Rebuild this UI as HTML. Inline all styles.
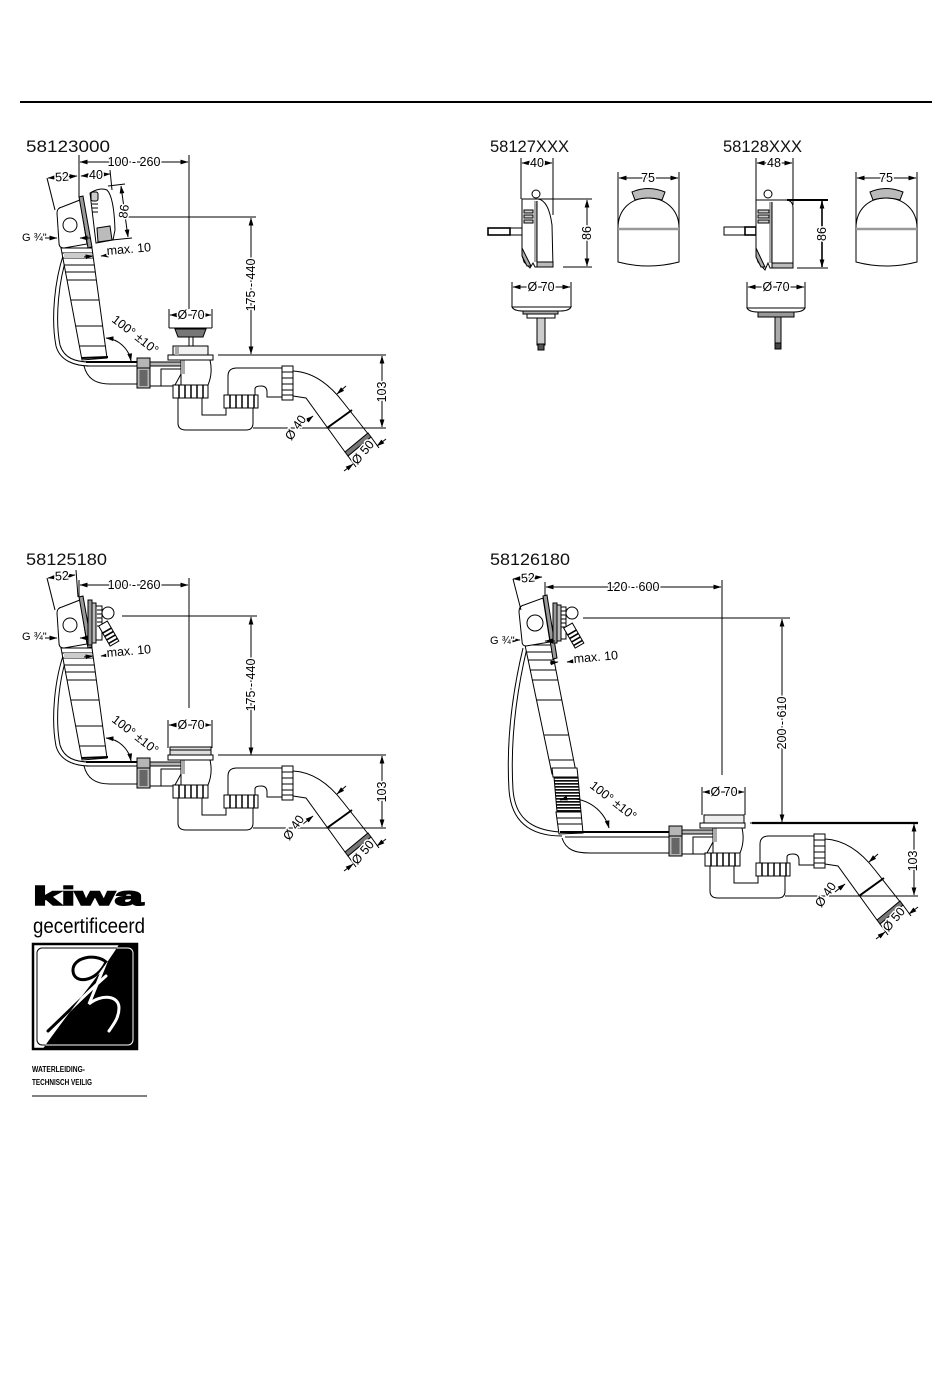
<!DOCTYPE html>
<html><head><meta charset="utf-8"><style>
html,body{margin:0;padding:0;background:#fff}
svg{display:block}
.t{font-family:"Liberation Sans",sans-serif;font-size:12.5px;fill:#000;stroke:#fff;stroke-width:3px;paint-order:stroke;stroke-linejoin:round}
.ti{font-family:"Liberation Sans",sans-serif;font-size:17px;fill:#111}
</style></head><body>
<svg width="950" height="1383" viewBox="0 0 950 1383" xmlns="http://www.w3.org/2000/svg">
<defs>
<marker id="ar" viewBox="0 0 8 6" refX="7.5" refY="3" markerWidth="8" markerHeight="6" markerUnits="userSpaceOnUse" orient="auto-start-reverse"><path d="M0,0.6 L8,3 L0,5.4Z" fill="#000"/></marker>
<pattern id="hz" width="4" height="3" patternUnits="userSpaceOnUse"><rect width="4" height="3" fill="#fff"/><rect y="0" width="4" height="1.7" fill="#111"/></pattern>
<clipPath id="blk"><path d="M120,943 L138,943 L138,1050 L42,1050 C70,1010 100,975 120,943Z"/></clipPath>
<clipPath id="wht"><path d="M32,943 L120,943 C100,975 70,1010 42,1050 L32,1050Z"/></clipPath>

<g id="siphon" stroke="#000" stroke-width="1" fill="none">
<line x1="218" y1="355" x2="386" y2="355"/>
<line x1="253" y1="428" x2="386" y2="428"/>
<line x1="382" y1="356" x2="382" y2="427" marker-start="url(#ar)" marker-end="url(#ar)"/>
<rect x="137" y="358" width="13" height="30" fill="#b5b5b5"/>
<line x1="137" y1="368" x2="150" y2="368"/>
<rect x="139.5" y="370" width="8" height="16" fill="#666" stroke="none"/>
<path d="M150,362 H181 M150,386 H176"/>
<rect x="150" y="362" width="31" height="4" fill="#b5b5b5"/>
<rect x="161" y="369" width="20" height="17" fill="#fff"/>
<path d="M181,360 V374 L175,385 M210,360 Q213,373 208,385"/>
<rect x="181" y="360" width="4" height="14" fill="#aaa" stroke="none"/>
<rect x="168" y="355" width="45" height="5" fill="#fff"/>
<rect x="173" y="385" width="35" height="13" fill="#fff"/>
<path d="M179,385V398M185,385V398M191,385V398M197,385V398M203,385V398" stroke-width="1.5"/>
<path d="M178,398 V423 Q178,430 186,430 H246 Q253,430 253,423 V408"/>
<path d="M202,398 V415 H226 V408"/>
<rect x="224" y="395" width="34" height="13" fill="#fff"/>
<path d="M230,395V408M236,395V408M242,395V408M248,395V408M254,395V408" stroke-width="1.5"/>
<path d="M228,395 V376 Q228,368 237,368 H282"/>
<path d="M255,395 V389 Q255,386 261,386 Q267,386 267,392 V397 H282"/>
<rect x="282" y="366" width="11" height="34" fill="#fff"/>
<path d="M282,372H293M282,378H293M282,384H293M282,390H293M282,395H293"/>
<path d="M293,371 C313,372 330,385 343,402 L369,435"/>
<path d="M293,396 L306,398 L345,452"/>
<line x1="327" y1="428" x2="352" y2="410" stroke-width="2"/>
<path d="M345,452 L368,433 L371,437 L348,456Z" fill="#777"/>
<line x1="346" y1="386" x2="337" y2="394" marker-end="url(#ar)"/>
<line x1="303" y1="424" x2="313" y2="416" marker-end="url(#ar)"/>
<path d="M348,456 L356,467 M371,437 L379,448"/>
<line x1="344" y1="471" x2="353" y2="464" marker-end="url(#ar)"/>
<line x1="386" y1="439" x2="377" y2="446" marker-end="url(#ar)"/>
</g>

<g id="ov" stroke="#000" stroke-width="1" fill="none">
<path d="M69,250 C58,280 55,320 60,345 C64,358 75,362 90,362"/>
<path d="M65,250 C54,280 51,320 56,346 C60,361 75,366 90,366"/>
<path d="M61,248 L92,248 L107,358 L82,360 Z" fill="#fff"/>
<path d="M62,253H92.7M62.9,258H93.4M64.2,265H94.3M65.6,272H95.3M67.1,280H96.4M70.9,300H99.1M75.9,326H102.6M79.7,346H105.3"/>
<rect x="64" y="253" width="28" height="5" fill="#ccc" stroke="none"/>
<line x1="82" y1="358" x2="108" y2="357" stroke-width="2"/>
<line x1="86" y1="362" x2="137" y2="362" stroke-width="2"/>
<line x1="86" y1="366" x2="137" y2="366"/>
<path d="M84,366 C87,378 95,384 110,384 L137,384"/>
<path d="M57,213 Q57,208 62,207 L80,200 L87,244 L64,248 Q59,248 59,243 Z" fill="#fff"/>
<circle cx="70" cy="225" r="7" fill="#fff"/>
<path d="M79,197 L83,196 L92,247 L88,248 Z" fill="#999"/>
<path d="M106,338 A28,28 0 0 1 131,361" marker-start="url(#ar)" marker-end="url(#ar)"/>
<line x1="47" y1="178" x2="55" y2="210"/>
<line x1="45" y1="238" x2="57" y2="238" marker-end="url(#ar)"/>
<line x1="90" y1="238" x2="80" y2="238" marker-end="url(#ar)"/>
<line x1="84" y1="257" x2="93" y2="256" marker-end="url(#ar)"/>
<line x1="110" y1="255" x2="101" y2="256" marker-end="url(#ar)"/>
</g>

<g id="front" stroke="#000" stroke-width="1" fill="none">
<line x1="618" y1="172" x2="618" y2="228"/>
<line x1="679" y1="172" x2="679" y2="228"/>
<line x1="619" y1="178" x2="678" y2="178" marker-start="url(#ar)" marker-end="url(#ar)"/>
<path d="M618,262 L618,228 C618,210 630,198 648,198 C666,198 679,210 679,228 L679,262 Q648,270 618,262 Z" fill="#fff"/>
<line x1="618" y1="229" x2="679" y2="229" stroke="#999" stroke-width="2.5"/>
<path d="M632,192 Q648,185 665,192 L662,200 Q648,196 635,200 Z" fill="#bbb"/>
</g>
</defs>

<line x1="20" y1="102" x2="932" y2="102" stroke="#000" stroke-width="2"/>

<!-- Drawing 1 -->
<text class="ti" x="26" y="152" textLength="84" lengthAdjust="spacingAndGlyphs">58123000</text>
<use href="#ov"/>
<use href="#siphon"/>
<g stroke="#000" stroke-width="1" fill="none">
<line x1="79" y1="155" x2="79" y2="197"/>
<line x1="80" y1="162" x2="188" y2="162" marker-start="url(#ar)" marker-end="url(#ar)"/>
<line x1="189" y1="155" x2="189" y2="309"/>
<line x1="48" y1="178" x2="77" y2="176" marker-start="url(#ar)" marker-end="url(#ar)"/>
<line x1="81" y1="176" x2="110" y2="174" marker-start="url(#ar)" marker-end="url(#ar)"/>
<line x1="110" y1="170" x2="112" y2="190"/>
<path d="M90,193 Q100,187 107,190 Q114,197 115,230 L113,240 L96,243 Z" fill="#fff"/>
<rect x="91" y="192" width="7" height="9" rx="2" fill="#ccc"/>
<path d="M92,204h6M92,208h6M92,212h6"/>
<path d="M97,228 L110,226 L112,240 L98,242Z" fill="#bbb"/>
<line x1="108" y1="186" x2="125" y2="184"/>
<line x1="112" y1="240" x2="132" y2="238"/>
<line x1="121" y1="186" x2="128" y2="237" marker-start="url(#ar)" marker-end="url(#ar)"/>
<line x1="128" y1="217" x2="256" y2="217"/>
<line x1="251" y1="218" x2="251" y2="354" marker-start="url(#ar)" marker-end="url(#ar)"/>
<line x1="169" y1="309" x2="169" y2="328"/>
<line x1="212" y1="309" x2="212" y2="328"/>
<line x1="170" y1="315" x2="211" y2="315" marker-start="url(#ar)" marker-end="url(#ar)"/>
<line x1="169" y1="328" x2="212" y2="328"/>
<path d="M175,329 H206 L203,337 H178Z" fill="#777"/>
<path d="M189,337 V346 M193,337 V346"/>
<rect x="173" y="346" width="35" height="9" fill="#f2f2f2"/>
<rect x="175" y="347" width="4" height="8" fill="#aaa" stroke="none"/>
</g>
<text class="t" x="134" y="166" text-anchor="middle">100 - 260</text>
<text class="t" x="62" y="181" text-anchor="middle" transform="rotate(-4 62 177)">52</text>
<text class="t" x="96" y="179" text-anchor="middle">40</text>
<text class="t" text-anchor="middle" transform="translate(128,212) rotate(-82)">86</text>
<text class="t" x="22" y="241" style="font-size:11px">G ¾"</text>
<text class="t" transform="translate(107,255) rotate(-5)">max. 10</text>
<text class="t" transform="translate(111,321) rotate(38)">100° ±10°</text>
<text class="t" text-anchor="middle" transform="translate(255,285) rotate(-90)">175 - 440</text>
<text class="t" x="191" y="319" text-anchor="middle">Ø 70</text>
<text class="t" text-anchor="middle" transform="translate(386,392) rotate(-90)">103</text>
<text class="t" text-anchor="middle" transform="translate(299,430) rotate(-55)">Ø 40</text>
<text class="t" text-anchor="middle" transform="translate(366,455) rotate(-50)">Ø 50</text>

<!-- Drawing 2 -->
<text class="ti" x="490" y="152" textLength="79" lengthAdjust="spacingAndGlyphs">58127XXX</text>
<text class="ti" x="723" y="152" textLength="79" lengthAdjust="spacingAndGlyphs">58128XXX</text>
<g stroke="#000" stroke-width="1" fill="none">
<line x1="521" y1="158" x2="521" y2="199"/>
<line x1="553" y1="158" x2="553" y2="215"/>
<line x1="522" y1="163" x2="552" y2="163" marker-start="url(#ar)" marker-end="url(#ar)"/>
<rect x="488" y="228" width="34" height="7" fill="#fff"/>
<rect x="488" y="228" width="22" height="7" stroke-width="1.6"/>
<path d="M522,199 L538,199 C546,200 550,210 552,225 L553,267 L535,267 L533,263 L530,268 L524,262 L522,255 Z" fill="#fff"/>
<rect x="534" y="201" width="3" height="61" fill="#aaa" stroke="none"/>
<line x1="537" y1="201" x2="537" y2="262"/>
<circle cx="536" cy="194" r="4" fill="#fff"/>
<path d="M524,210h9v3h-9zM524,215h9v3h-9zM524,220h9v3h-9z" fill="#ccc"/>
<rect x="537" y="262" width="16" height="5" fill="#bbb"/>
<path d="M522,248 L531,266 L527,266 L522,256Z" fill="#aaa"/>
<line x1="538" y1="199" x2="592" y2="199"/>
<line x1="563" y1="267" x2="592" y2="267"/>
<line x1="587" y1="200" x2="587" y2="266" marker-start="url(#ar)" marker-end="url(#ar)"/>
<line x1="512" y1="282" x2="512" y2="307"/>
<line x1="571" y1="282" x2="571" y2="307"/>
<line x1="513" y1="287" x2="570" y2="287" marker-start="url(#ar)" marker-end="url(#ar)"/>
<path d="M512,307 L571,307 Q569,311 560,311 L523,311 Q514,311 512,307Z" fill="#fff"/>
<rect x="523" y="311" width="35" height="3" fill="#aaa"/>
<rect x="527" y="314" width="28" height="4" fill="#fff"/>
<rect x="537" y="318" width="8" height="27" fill="#ccc"/>
<rect x="538" y="344" width="6" height="6" fill="#555"/>
<line x1="756" y1="158" x2="756" y2="200"/>
<line x1="793" y1="158" x2="793" y2="205"/>
<line x1="757" y1="163" x2="792" y2="163" marker-start="url(#ar)" marker-end="url(#ar)"/>
<rect x="724" y="227" width="32" height="8" fill="#fff"/>
<rect x="745" y="227" width="11" height="8" stroke-width="1.6"/>
<path d="M756,200 L787,200 Q793,201 793,208 L793,268 L770,268 L768,263 L765,270 L758,262 L756,255 Z" fill="#fff"/>
<rect x="769" y="202" width="3" height="61" fill="#aaa" stroke="none"/>
<line x1="772" y1="202" x2="772" y2="263"/>
<circle cx="768" cy="194" r="4" fill="#fff"/>
<path d="M758,210h11v3h-11zM758,215h11v3h-11zM758,220h11v3h-11z" fill="#ccc"/>
<rect x="772" y="263" width="21" height="5" fill="#bbb"/>
<path d="M756,248 L765,267 L761,267 L756,257Z" fill="#aaa"/>
<line x1="787" y1="200" x2="828" y2="200" stroke-width="2"/>
<line x1="797" y1="268" x2="828" y2="268"/>
<line x1="822" y1="201" x2="822" y2="267" stroke-width="1.6" marker-start="url(#ar)" marker-end="url(#ar)"/>
<line x1="747" y1="282" x2="747" y2="308"/>
<line x1="805" y1="282" x2="805" y2="308"/>
<line x1="748" y1="287" x2="804" y2="287" marker-start="url(#ar)" marker-end="url(#ar)"/>
<path d="M747,308 L805,308 Q803,312 794,312 L758,312 Q749,312 747,308Z" fill="#fff"/>
<rect x="758" y="312" width="36" height="5" fill="#999"/>
<rect x="775" y="317" width="6" height="28" fill="#aaa"/>
<rect x="775" y="343" width="6" height="6" fill="#444"/>
</g>
<use href="#front"/>
<use href="#front" transform="translate(238,0)"/>
<text class="t" x="537" y="167" text-anchor="middle">40</text>
<text class="t" x="774" y="167" text-anchor="middle">48</text>
<text class="t" x="648" y="182" text-anchor="middle">75</text>
<text class="t" x="886" y="182" text-anchor="middle">75</text>
<text class="t" text-anchor="middle" transform="translate(591,233) rotate(-90)">86</text>
<text class="t" text-anchor="middle" transform="translate(826,234) rotate(-90)">86</text>
<text class="t" x="541" y="291" text-anchor="middle">Ø 70</text>
<text class="t" x="776" y="291" text-anchor="middle">Ø 70</text>

<!-- Drawing 3 -->
<text class="ti" x="26" y="565" textLength="81" lengthAdjust="spacingAndGlyphs">58125180</text>
<use href="#ov" transform="translate(0,400)"/>
<use href="#siphon" transform="translate(0,400)"/>
<g stroke="#000" stroke-width="1" fill="none">
<line x1="79" y1="580" x2="79" y2="597"/>
<line x1="80" y1="585" x2="188" y2="585" marker-start="url(#ar)" marker-end="url(#ar)"/>
<line x1="189" y1="578" x2="189" y2="708"/>
<line x1="48" y1="578" x2="75" y2="575" marker-start="url(#ar)" marker-end="url(#ar)"/>
<line x1="76" y1="570" x2="78" y2="597"/>
<rect x="88" y="600" width="4" height="45" fill="#999"/>
<rect x="92" y="603" width="4" height="40" fill="#bbb"/>
<path d="M96,606h6v34h-6z" fill="#fff"/>
<path d="M97,610h5M97,614h5M97,618h5M97,622h5M97,626h5"/>
<circle cx="108" cy="613" r="6" fill="#fff"/>
<g transform="rotate(-30 109 634)"><rect x="104" y="622" width="10" height="23" fill="#fff"/><path d="M104,630h10M104,634h10M104,638h10M104,642h10" stroke-width="1.6"/></g>
<line x1="122" y1="616" x2="257" y2="616"/>
<line x1="251" y1="617" x2="251" y2="755" marker-start="url(#ar)" marker-end="url(#ar)"/>
<line x1="168" y1="720" x2="168" y2="748"/>
<line x1="212" y1="720" x2="212" y2="748"/>
<line x1="169" y1="725" x2="211" y2="725" marker-start="url(#ar)" marker-end="url(#ar)"/>
<rect x="170" y="747" width="41" height="8" fill="#ddd"/>
<line x1="170" y1="750" x2="211" y2="750"/>
</g>
<text class="t" x="134" y="589" text-anchor="middle">100 - 260</text>
<text class="t" x="62" y="580" text-anchor="middle" transform="rotate(-4 62 577)">52</text>
<text class="t" x="22" y="640" style="font-size:11px">G ¾"</text>
<text class="t" transform="translate(107,657) rotate(-5)">max. 10</text>
<text class="t" transform="translate(111,721) rotate(38)">100° ±10°</text>
<text class="t" text-anchor="middle" transform="translate(255,685) rotate(-90)">175 - 440</text>
<text class="t" x="191" y="729" text-anchor="middle">Ø 70</text>
<text class="t" text-anchor="middle" transform="translate(386,792) rotate(-90)">103</text>
<text class="t" text-anchor="middle" transform="translate(297,830) rotate(-55)">Ø 40</text>
<text class="t" text-anchor="middle" transform="translate(366,855) rotate(-50)">Ø 50</text>

<!-- Drawing 4 -->
<text class="ti" x="490" y="565" textLength="80" lengthAdjust="spacingAndGlyphs">58126180</text>
<use href="#siphon" transform="translate(532,468)"/>
<g stroke="#000" stroke-width="1" fill="none">
<line x1="752" y1="823" x2="918" y2="823" stroke-width="2.2"/>
<path d="M527,648 C517,690 510,740 513,790 C515,815 528,830 560,832"/>
<path d="M523,648 C513,690 506,740 509,790 C511,818 526,836 562,836"/>
<path d="M525,645 L551,645 L576,772 L552,774 Z" fill="#fff"/>
<path d="M526.5,652H552.3M528.2,660H553.9M530.4,670H555.8M532.5,680H557.7M536.8,700H561.6M544.4,735H568.3M549.7,760H573.1"/>
<path d="M552,768 L577,768 L578,777 L553,777Z" fill="#fff"/>
<path d="M554,777 L578,777 L581,812 L557,812Z" fill="url(#hz)"/>
<path d="M556,812 L581,812 L583,833 L559,834Z" fill="#fff"/>
<path d="M557,818H582M558,824H582"/>
<line x1="560" y1="832" x2="669" y2="832" stroke-width="2"/>
<line x1="565" y1="837" x2="669" y2="837"/>
<path d="M562,838 C566,850 575,853 590,853 L669,853"/>
<path d="M519,612 Q519,606 524,605 L543,598 L550,642 L526,646 Q522,646 522,641 Z" fill="#fff"/>
<circle cx="535" cy="623" r="8" fill="#fff"/>
<path d="M543,596 L547,595 L557,658 L553,659 Z" fill="#999"/>
<line x1="545" y1="582" x2="545" y2="596"/>
<rect x="553" y="603" width="4" height="40" fill="#999"/>
<rect x="557" y="605" width="4" height="36" fill="#bbb"/>
<path d="M561,607h5v32h-5z" fill="#fff"/>
<path d="M561,611h5M561,615h5M561,619h5M561,623h5M561,627h5"/>
<circle cx="572" cy="613" r="6" fill="#fff"/>
<g transform="rotate(-30 574 636)"><rect x="569" y="624" width="10" height="23" fill="#fff"/><path d="M569,632h10M569,636h10M569,640h10M569,644h10" stroke-width="1.6"/></g>
<line x1="513" y1="579" x2="542" y2="577" marker-start="url(#ar)" marker-end="url(#ar)"/>
<line x1="513" y1="579" x2="521" y2="610"/>
<line x1="546" y1="587" x2="721" y2="587" marker-start="url(#ar)" marker-end="url(#ar)"/>
<line x1="722" y1="580" x2="722" y2="775"/>
<line x1="583" y1="618" x2="790" y2="618"/>
<line x1="782" y1="619" x2="782" y2="822" marker-start="url(#ar)" marker-end="url(#ar)"/>
<line x1="702" y1="787" x2="702" y2="815"/>
<line x1="745" y1="787" x2="745" y2="815"/>
<line x1="703" y1="792" x2="744" y2="792" marker-start="url(#ar)" marker-end="url(#ar)"/>
<rect x="704" y="815" width="40" height="8" fill="#eee"/>
<path d="M560,800 A40,40 0 0 1 609,828" marker-start="url(#ar)" marker-end="url(#ar)"/>
<line x1="508" y1="640" x2="520" y2="640" marker-end="url(#ar)"/>
<line x1="555" y1="641" x2="545" y2="641" marker-end="url(#ar)"/>
<line x1="550" y1="663" x2="558" y2="662" marker-end="url(#ar)"/>
<line x1="576" y1="661" x2="567" y2="662" marker-end="url(#ar)"/>
</g>
<text class="t" x="633" y="591" text-anchor="middle">120 - 600</text>
<text class="t" x="528" y="582" text-anchor="middle" transform="rotate(-4 528 579)">52</text>
<text class="t" x="490" y="644" style="font-size:11px">G ¾"</text>
<text class="t" transform="translate(574,663) rotate(-5)">max. 10</text>
<text class="t" transform="translate(589,787) rotate(38)">100° ±10°</text>
<text class="t" text-anchor="middle" transform="translate(786,723) rotate(-90)">200 - 610</text>
<text class="t" x="724" y="796" text-anchor="middle">Ø 70</text>
<text class="t" text-anchor="middle" transform="translate(917,861) rotate(-90)">103</text>
<text class="t" text-anchor="middle" transform="translate(829,897) rotate(-55)">Ø 40</text>
<text class="t" text-anchor="middle" transform="translate(897,922) rotate(-50)">Ø 50</text>

<!-- Kiwa logo -->
<text x="33" y="905" font-family="'Liberation Sans',sans-serif" font-weight="bold" font-size="26" textLength="110" lengthAdjust="spacingAndGlyphs" fill="#000" stroke="#000" stroke-width="1.6">kiwa</text>
<text x="33" y="933" font-family="'Liberation Sans',sans-serif" font-size="21" textLength="112" lengthAdjust="spacingAndGlyphs" fill="#000">gecertificeerd</text>
<rect x="33" y="944" width="104" height="105" fill="#fff" stroke="#000" stroke-width="2.5"/>
<path d="M120,943 L138,943 L138,1050 L42,1050 C70,1010 100,975 120,943Z" fill="#000"/>
<g fill="none" stroke-linecap="round">
<g clip-path="url(#wht)" stroke="#000">
<rect x="37" y="948" width="96" height="97" rx="5" stroke-width="1"/>
<path d="M48,1031 C70,1010 90,990 106,976" stroke-width="3"/>
<path d="M106,962 C96,953 72,957 73,971 C74,985 97,982 106,962 L89,1004 C101,994 119,995 119,1008 C119,1018 113,1025 109,1031" stroke-width="3"/>
</g>
<g clip-path="url(#blk)" stroke="#fff">
<rect x="37" y="948" width="96" height="97" rx="5" stroke-width="1"/>
<path d="M48,1031 C70,1010 90,990 106,976" stroke-width="3"/>
<path d="M106,962 C96,953 72,957 73,971 C74,985 97,982 106,962 L89,1004 C101,994 119,995 119,1008 C119,1018 113,1025 109,1031" stroke-width="3"/>
</g>
</g>
<text x="32" y="1072" font-family="'Liberation Sans',sans-serif" font-weight="bold" font-size="8" textLength="53" lengthAdjust="spacingAndGlyphs">WATERLEIDING-</text>
<text x="32" y="1085" font-family="'Liberation Sans',sans-serif" font-weight="bold" font-size="8" textLength="60" lengthAdjust="spacingAndGlyphs">TECHNISCH VEILIG</text>
<line x1="32" y1="1096" x2="147" y2="1096" stroke="#000" stroke-width="1"/>
</svg>
</body></html>
